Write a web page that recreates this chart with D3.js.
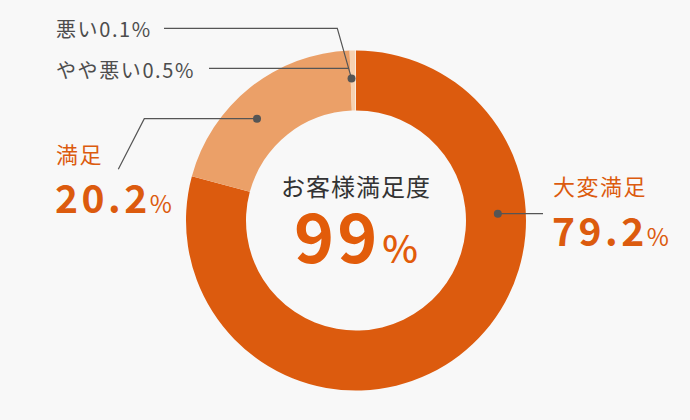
<!DOCTYPE html>
<html><head><meta charset="utf-8">
<script src="https://cdn.jsdelivr.net/npm/d3@7"></script>
<style>
html,body{margin:0;padding:0;background:#f8f8f8;}
svg{display:block;font-family:"Noto Sans CJK JP","Noto Sans",sans-serif;}
</style></head><body>
<svg id="c" width="690" height="420"></svg>
<script>
const categories = ["大変満足","満足","やや悪い","悪い"];
const values = [79.2, 20.2, 0.5, 0.1];
const centerTitle = "お客様満足度";
const centerValue = "99";

const W=690,H=420,cx=356,cy=220.5,R=170,r=110;
const colors = ["#dc5b0e","#eba068","#f6d1b1","#fbe8d8"];
const svg = d3.select("#c");
svg.append("rect").attr("width",W).attr("height",H).attr("fill","#f8f8f8");
const g = svg.append("g").attr("transform",`translate(${cx},${cy})`);
const pie = d3.pie().sort(null).value(d=>d);
const arcs = pie(values);
const arc = d3.arc().innerRadius(r).outerRadius(R);
g.selectAll("path").data(arcs).enter().append("path")
  .attr("d",arc).attr("fill",(d,i)=>colors[i]);

// dot anchor: fraction within slice, at radius
const dotR = 142;
function pt(a, rad){ return [cx + rad*Math.sin(a), cy - rad*Math.cos(a)]; }
function at(i, f){ const a=arcs[i]; return pt(a.startAngle + f*(a.endAngle-a.startAngle), dotR); }
const lineColor="#555";
const dots = [at(0,0.306), at(1,0.422), at(2,0.2)];
dots.forEach(p=>svg.append("circle").attr("cx",p[0]).attr("cy",p[1]).attr("r",4).attr("fill",lineColor));
const line = d3.line();
function pl(pts){ svg.append("path").attr("d",line(pts)).attr("fill","none").attr("stroke",lineColor).attr("stroke-width",1.2); }
// 大変満足
pl([dots[0],[543,dots[0][1]]]);
// 満足
pl([dots[1],[144.3,dots[1][1]],[118.3,169.3]]);
// 悪い
const elbow=[337.3,28.3];
pl([[164,28.3],elbow,dots[2]]);
// やや悪い : horizontal to diagonal
const yy=68.3, t=(yy-elbow[1])/(dots[2][1]-elbow[1]);
pl([[209,yy],[elbow[0]+t*(dots[2][0]-elbow[0]),yy]]);

const orange="#dc5b0e", grey="#4d4d4d";
// small labels
svg.append("text").attr("x",56).attr("y",36.5).attr("font-size",20).attr("letter-spacing",1.6).attr("fill",grey)
  .text(categories[3]+values[3].toFixed(1)+"%");
svg.append("text").attr("x",56).attr("y",77.5).attr("font-size",20).attr("letter-spacing",1.6).attr("fill",grey)
  .text(categories[2]+values[2].toFixed(1)+"%");

function bigLabel(x, y1, y2, cat, val){
  svg.append("text").attr("x",x).attr("y",y1).attr("font-size",22).attr("fill",orange)
    .attr("letter-spacing",1.5).text(cat);
  const t=svg.append("text").attr("x",x-1).attr("y",y2).attr("fill",orange);
  t.append("tspan").attr("font-size",39).attr("font-weight",700).attr("letter-spacing",3.5).text(val.toFixed(1));
  t.append("tspan").attr("font-size",24).attr("font-weight",400).attr("dx",-1).text("%");
}
bigLabel(56,163,213,categories[1],values[1]);
bigLabel(553,195,246,categories[0],values[0]);

// center
svg.append("text").attr("x",cx).attr("y",196).attr("text-anchor","middle")
  .attr("font-size",24).attr("fill","#333").attr("letter-spacing",1).text(centerTitle);
const ct=svg.append("text").attr("x",cx).attr("y",262.5).attr("text-anchor","middle").attr("fill","#e25c0a");
ct.append("tspan").attr("font-size",68).attr("font-weight",700).attr("letter-spacing",3).text(centerValue);
ct.append("tspan").attr("font-size",38).attr("font-weight",500).attr("dx",2).text("%");
</script>
</body></html>
